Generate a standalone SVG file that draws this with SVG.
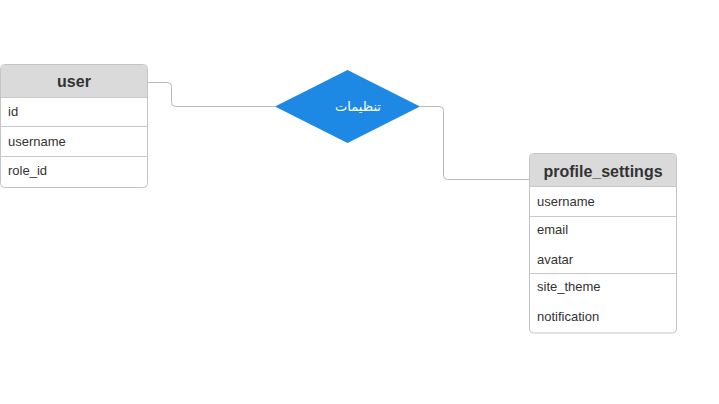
<svg xmlns="http://www.w3.org/2000/svg" width="719" height="404" viewBox="0 0 719 404">
<style>
.box{fill:#ffffff;stroke:#c4c4c4;stroke-width:1}
.hdr{fill:#dadada}
.sep{stroke:#c8c8c8;stroke-width:1}
.title{font-family:"Liberation Sans",Arial,sans-serif;font-size:16px;font-weight:bold;fill:#333333;text-anchor:middle}
.attr{font-family:"Liberation Sans",Arial,sans-serif;font-size:13px;fill:#333333}
.conn{fill:none;stroke:#b8b8b8;stroke-width:1}
.rel{fill:#1e88e5}
.rtext{font-family:"Noto Sans","DejaVu Sans",sans-serif;font-size:13px;fill:#ffffff;text-anchor:middle}
</style>
<rect width="719" height="404" fill="#ffffff"/>
<g id="connectors">
<path class="conn" d="M147.5 82.5 H167.5 Q171.5 82.5 171.5 86.5 V102.5 Q171.5 106.5 175.5 106.5 H275"/>
<path class="conn" d="M420 106.5 H439.5 Q443.5 106.5 443.5 110.5 V175.5 Q443.5 179.5 447.5 179.5 H529.5"/>
</g>
<g id="user">
<rect class="box" x="0.5" y="64.5" width="147" height="123" rx="4"/>
<path class="hdr" d="M1 97 V68.5 Q1 65 4.5 65 H143.5 Q147 65 147 68.5 V97 Z"/>
<line class="sep" x1="0.5" y1="97.5" x2="147.5" y2="97.5"/>
<line class="sep" x1="0.5" y1="126.5" x2="147.5" y2="126.5"/>
<line class="sep" x1="0.5" y1="156.5" x2="147.5" y2="156.5"/>
<text class="title" x="74" y="87">user</text>
<text class="attr" x="8" y="116">id</text>
<text class="attr" x="8" y="146">username</text>
<text class="attr" x="8" y="175">role_id</text>
</g>
<g id="tanzimat">
<polygon class="rel" points="347.5,70 420,106.5 347.5,143 275,106.5"/>
<text class="rtext" x="358" y="111" direction="rtl" unicode-bidi="embed" style="text-anchor:middle">تنظيمات</text>
</g>
<g id="profile_settings">
<rect class="box" x="529.5" y="153.5" width="147" height="179.5" rx="4"/>
<path class="hdr" d="M530 186 V157.5 Q530 154 533.5 154 H672.5 Q676 154 676 157.5 V186 Z"/>
<line class="sep" x1="529.5" y1="186.5" x2="676.5" y2="186.5"/>
<line class="sep" x1="529.5" y1="216.5" x2="676.5" y2="216.5"/>
<line class="sep" x1="529.5" y1="273.5" x2="676.5" y2="273.5"/>
<text class="title" x="603" y="177">profile_settings</text>
<text class="attr" x="537" y="206">username</text>
<text class="attr" x="537" y="234">email</text>
<text class="attr" x="537" y="264">avatar</text>
<text class="attr" x="537" y="291">site_theme</text>
<text class="attr" x="537" y="321">notification</text>
</g>
</svg>
